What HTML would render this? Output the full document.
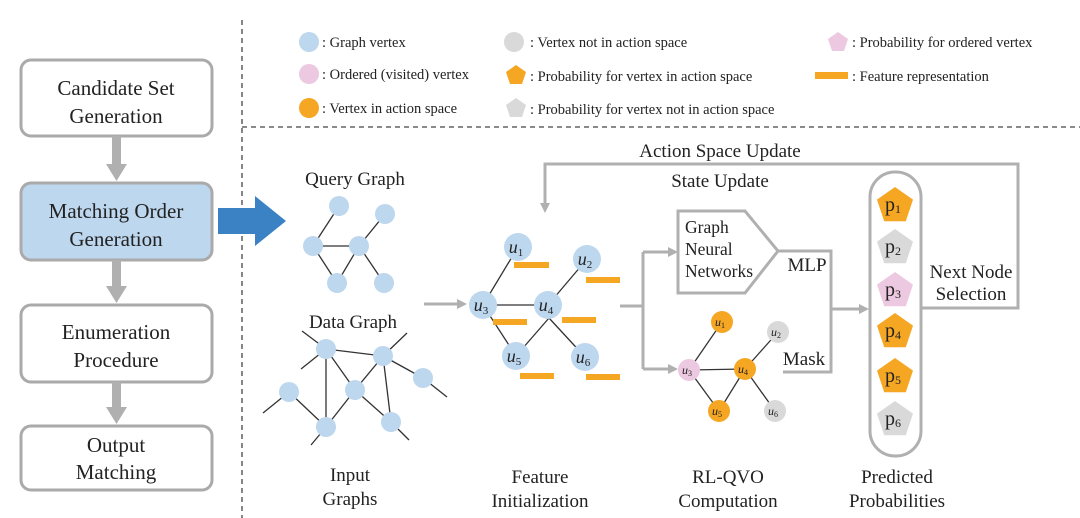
<!DOCTYPE html>
<html><head><meta charset="utf-8"><style>
html,body{margin:0;padding:0;background:#fff;}
svg{display:block;font-family:"Liberation Serif",serif;}
</style></head><body>
<svg width="1080" height="518" viewBox="0 0 1080 518" xmlns="http://www.w3.org/2000/svg">
<defs>
<marker id="ag" markerWidth="10" markerHeight="10" refX="7" refY="5" orient="auto" markerUnits="userSpaceOnUse"><path d="M0,0 L10,5 L0,10 Z" fill="#b0b0b0"/></marker>
<g id="pent"><polygon points="0,-10 10,-3 6,9 -6,9 -10,-3"/></g>
</defs>
<line x1="242" y1="20" x2="242" y2="518" stroke="#444" stroke-width="1.3" stroke-dasharray="5,4"/>
<line x1="242" y1="127" x2="1080" y2="127" stroke="#444" stroke-width="1.3" stroke-dasharray="5,4"/>

<g stroke="#aaa" stroke-width="3" fill="#fff">
<rect x="21" y="60" width="191" height="76" rx="10"/>
<rect x="21" y="183" width="191" height="77" rx="10" fill="#bdd7ee"/>
<rect x="21" y="305" width="191" height="77" rx="10"/>
<rect x="21" y="426" width="191" height="64" rx="10"/>
</g>
<g fill="#b0b0b0">
<rect x="112" y="136" width="9" height="30"/><polygon points="106,164 127,164 116.5,181"/>
<rect x="112" y="260" width="9" height="28"/><polygon points="106,286 127,286 116.5,303"/>
<rect x="112" y="382" width="9" height="27"/><polygon points="106,407 127,407 116.5,424"/>
</g>
<g font-size="21" fill="#222" text-anchor="middle">
<text x="116" y="95">Candidate Set</text><text x="116" y="123">Generation</text>
<text x="116" y="218">Matching Order</text><text x="116" y="246">Generation</text>
<text x="116" y="339">Enumeration</text><text x="116" y="367">Procedure</text>
<text x="116" y="452">Output</text><text x="116" y="479">Matching</text>
</g>
<polygon points="218,208 255,208 255,196 286,221 255,246 255,234 218,234" fill="#3b82c4"/>

<g font-size="14.5" fill="#222">
<circle cx="309" cy="42" r="10" fill="#bdd7ee"/><text x="322" y="47">: Graph vertex</text>
<circle cx="309" cy="74" r="10" fill="#ecc9e0"/><text x="322" y="79">: Ordered (visited) vertex</text>
<circle cx="309" cy="108" r="10" fill="#f5a623"/><text x="322" y="113">: Vertex in action space</text>
<circle cx="514" cy="42" r="10" fill="#d9d9d9"/><text x="530" y="47">: Vertex not in action space</text>
<use href="#pent" x="516" y="75" fill="#f5a623"/><text x="530" y="81">: Probability for vertex in action space</text>
<use href="#pent" x="516" y="108" fill="#d9d9d9"/><text x="530" y="114">: Probability for vertex not in action space</text>
<use href="#pent" x="838" y="42" fill="#ecc9e0"/><text x="852" y="47">: Probability for ordered vertex</text>
<rect x="815" y="72" width="33" height="7" fill="#f5a623"/><text x="852" y="81">: Feature representation</text>
</g>

<g stroke="#333" stroke-width="1.3">
<line x1="339" y1="206" x2="313" y2="246"/><line x1="313" y1="246" x2="359" y2="246"/><line x1="359" y1="246" x2="385" y2="214"/>
<line x1="313" y1="246" x2="337" y2="283"/><line x1="337" y1="283" x2="359" y2="246"/><line x1="359" y1="246" x2="384" y2="283"/>
<line x1="326" y1="349" x2="383" y2="356"/><line x1="326" y1="349" x2="355" y2="390"/><line x1="383" y1="356" x2="355" y2="390"/>
<line x1="383" y1="356" x2="391" y2="422"/><line x1="355" y1="390" x2="326" y2="427"/><line x1="355" y1="390" x2="391" y2="422"/>
<line x1="289" y1="392" x2="326" y2="427"/><line x1="326" y1="349" x2="326" y2="427"/><line x1="383" y1="356" x2="423" y2="378"/>
<line x1="302" y1="331" x2="326" y2="349"/><line x1="301" y1="369" x2="326" y2="349"/><line x1="407" y1="333" x2="383" y2="356"/>
<line x1="423" y1="378" x2="447" y2="397"/><line x1="289" y1="392" x2="263" y2="413"/><line x1="326" y1="427" x2="311" y2="445"/><line x1="391" y1="422" x2="409" y2="440"/>
</g>
<g fill="#bdd7ee">
<circle cx="339" cy="206" r="10"/><circle cx="385" cy="214" r="10"/><circle cx="313" cy="246" r="10"/><circle cx="359" cy="246" r="10"/><circle cx="337" cy="283" r="10"/><circle cx="384" cy="283" r="10"/>
<circle cx="326" cy="349" r="10"/><circle cx="383" cy="356" r="10"/><circle cx="355" cy="390" r="10"/><circle cx="423" cy="378" r="10"/><circle cx="289" cy="392" r="10"/><circle cx="326" cy="427" r="10"/><circle cx="391" cy="422" r="10"/>
</g>
<g font-size="19" fill="#222" text-anchor="middle">
<text x="355" y="185">Query Graph</text><text x="353" y="328">Data Graph</text>
<text x="350" y="481">Input</text><text x="350" y="505">Graphs</text>
<text x="540" y="483">Feature</text><text x="540" y="507">Initialization</text>
<text x="728" y="483">RL-QVO</text><text x="728" y="507">Computation</text>
<text x="897" y="483">Predicted</text><text x="897" y="507">Probabilities</text>
<text x="720" y="157">Action Space Update</text><text x="720" y="187">State Update</text>
<text x="971" y="278">Next Node</text><text x="971" y="300">Selection</text>
<text x="807" y="271">MLP</text><text x="804" y="365">Mask</text>
</g>

<g stroke="#b0b0b0" stroke-width="3" fill="none">
<line x1="424" y1="304" x2="464" y2="304" marker-end="url(#ag)"/>
<polyline points="620,306 643,306"/>
<polyline points="643,252 643,369"/>
<line x1="643" y1="252" x2="675" y2="252" marker-end="url(#ag)"/>
<line x1="643" y1="369" x2="675" y2="369" marker-end="url(#ag)"/>
<polygon points="678,211 745,211 778,251 745,293 678,293"/>
<polyline points="778,251 831,251 831,372 783,372"/>
<line x1="831" y1="309" x2="866" y2="309" marker-end="url(#ag)"/>
<polyline points="921,308 1018,308 1018,164 545,164 545,210" marker-end="url(#ag)"/>
<rect x="870" y="172" width="51" height="284" rx="25"/>
</g>
<g font-size="17.5" fill="#222"><text x="685" y="233">Graph</text><text x="685" y="255">Neural</text><text x="685" y="277">Networks</text></g>

<g stroke="#333" stroke-width="1.3">
<line x1="518" y1="247" x2="483" y2="305"/><line x1="483" y1="305" x2="548" y2="305"/><line x1="548" y1="305" x2="587" y2="259"/>
<line x1="483" y1="305" x2="516" y2="356"/><line x1="516" y1="356" x2="549" y2="318"/><line x1="549" y1="318" x2="585" y2="357"/>
</g>
<g fill="#bdd7ee">
<circle cx="518" cy="247" r="14"/><circle cx="587" cy="259" r="14"/><circle cx="483" cy="305" r="14"/><circle cx="548" cy="305" r="14"/><circle cx="516" cy="356" r="14"/><circle cx="585" cy="357" r="14"/>
</g>
<g fill="#f5a623">
<rect x="514" y="262" width="35" height="6"/><rect x="586" y="277" width="34" height="6"/><rect x="493" y="319" width="34" height="6"/><rect x="562" y="317" width="34" height="6"/><rect x="520" y="373" width="34" height="6"/><rect x="586" y="374" width="34" height="6"/>
</g>
<g font-size="18" font-style="italic" fill="#222" text-anchor="middle">
<text x="516" y="253">u<tspan font-size="11" font-style="normal" dy="3">1</tspan></text>
<text x="585" y="265">u<tspan font-size="11" font-style="normal" dy="3">2</tspan></text>
<text x="481" y="311">u<tspan font-size="11" font-style="normal" dy="3">3</tspan></text>
<text x="546" y="311">u<tspan font-size="11" font-style="normal" dy="3">4</tspan></text>
<text x="514" y="362">u<tspan font-size="11" font-style="normal" dy="3">5</tspan></text>
<text x="583" y="363">u<tspan font-size="11" font-style="normal" dy="3">6</tspan></text>
</g>

<g stroke="#333" stroke-width="1.3">
<line x1="722" y1="322" x2="689" y2="370"/><line x1="689" y1="370" x2="745" y2="369"/><line x1="745" y1="369" x2="778" y2="332"/>
<line x1="689" y1="370" x2="719" y2="411"/><line x1="719" y1="411" x2="745" y2="369"/><line x1="745" y1="369" x2="775" y2="411"/>
</g>
<circle cx="722" cy="322" r="11" fill="#f5a623"/><circle cx="778" cy="332" r="11" fill="#d9d9d9"/>
<circle cx="689" cy="370" r="11" fill="#ecc9e0"/><circle cx="745" cy="369" r="11" fill="#f5a623"/>
<circle cx="719" cy="411" r="11" fill="#f5a623"/><circle cx="775" cy="411" r="11" fill="#d9d9d9"/>
<g font-size="12" font-style="italic" fill="#222" text-anchor="middle">
<text x="720" y="326">u<tspan font-size="8" font-style="normal" dy="2">1</tspan></text>
<text x="776" y="336">u<tspan font-size="8" font-style="normal" dy="2">2</tspan></text>
<text x="687" y="374">u<tspan font-size="8" font-style="normal" dy="2">3</tspan></text>
<text x="743" y="373">u<tspan font-size="8" font-style="normal" dy="2">4</tspan></text>
<text x="717" y="415">u<tspan font-size="8" font-style="normal" dy="2">5</tspan></text>
<text x="773" y="415">u<tspan font-size="8" font-style="normal" dy="2">6</tspan></text>
</g>

<g transform="translate(895,205) scale(1.8)" fill="#f5a623"><use href="#pent"/></g>
<g transform="translate(895,247) scale(1.8)" fill="#d9d9d9"><use href="#pent"/></g>
<g transform="translate(895,290) scale(1.8)" fill="#ecc9e0"><use href="#pent"/></g>
<g transform="translate(895,331) scale(1.8)" fill="#f5a623"><use href="#pent"/></g>
<g transform="translate(895,376) scale(1.8)" fill="#f5a623"><use href="#pent"/></g>
<g transform="translate(895,419) scale(1.8)" fill="#d9d9d9"><use href="#pent"/></g>
<g font-size="20" fill="#222" text-anchor="middle">
<text x="893" y="211">p<tspan font-size="12" dy="2">1</tspan></text>
<text x="893" y="253">p<tspan font-size="12" dy="2">2</tspan></text>
<text x="893" y="296">p<tspan font-size="12" dy="2">3</tspan></text>
<text x="893" y="337">p<tspan font-size="12" dy="2">4</tspan></text>
<text x="893" y="382">p<tspan font-size="12" dy="2">5</tspan></text>
<text x="893" y="425">p<tspan font-size="12" dy="2">6</tspan></text>
</g>
</svg>
</body></html>
